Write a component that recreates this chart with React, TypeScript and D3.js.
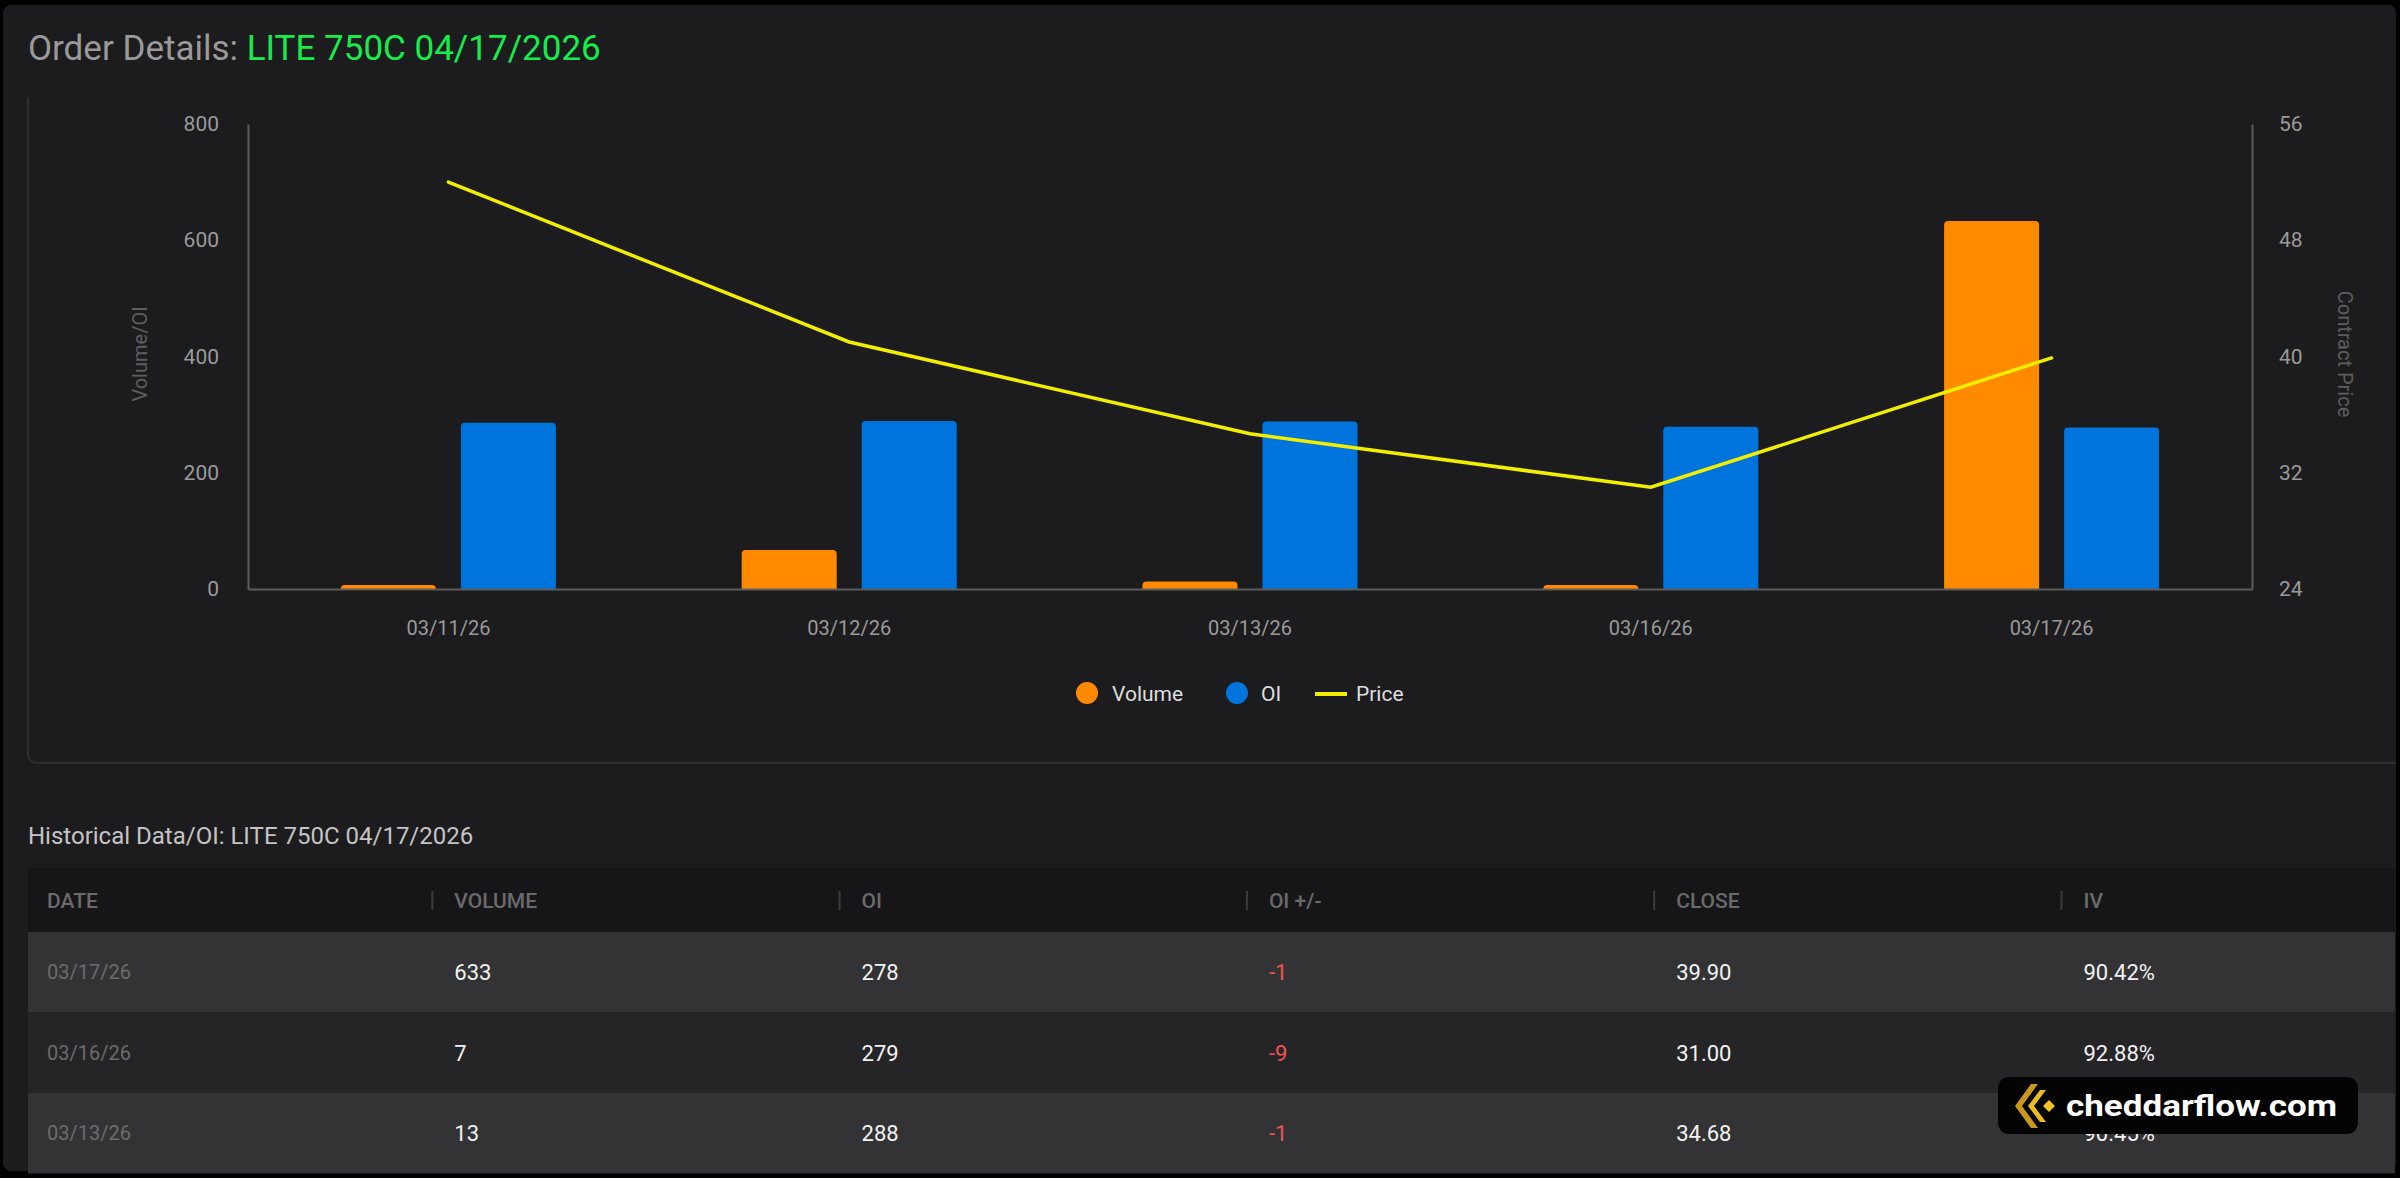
import React, { useRef, useEffect } from 'react';
import * as d3 from 'd3';

// daily history for LITE 750C 04/17/2026
const dates = ['03/11/26', '03/12/26', '03/13/26', '03/16/26', '03/17/26'];
const volume = [7, 67, 13, 7, 633];
const openInterest = [286, 289, 288, 279, 278];
const contractPrice = [52.0, 41.0, 34.68, 31.0, 39.9];
// implied vol for the rows shown in the table (newest first)
const tableIV = [90.42, 92.88, 90.45];

const volumeTicks = [0, 200, 400, 600, 800];
const priceTicks = [24, 32, 40, 48, 56];
const tableColumns = ['DATE', 'VOLUME', 'OI', 'OI +/-', 'CLOSE', 'IV'];

const W = 2400;
const H = 1178;
const FONT = 'Roboto, "Noto Sans", sans-serif';

const ORANGE = '#ff8a00';
const BLUE = '#0074dd';
const YELLOW = '#f2ee00';
const AXIS = '#5c5c5c';

// bar with rounded top corners
const roundedTop = (x: number, y: number, w: number, h: number, r: number) => {
  const rr = Math.min(r, h, w / 2);
  return `M${x},${y + h}V${y + rr}Q${x},${y} ${x + rr},${y}H${x + w - rr}Q${x + w},${y} ${x + w},${y + rr}V${y + h}Z`;
};

const App = () => {
  const svgRef = useRef<SVGSVGElement>(null);

  useEffect(() => {
    document.body.style.margin = '0';
    document.body.style.background = '#000';
    document.body.style.overflow = 'hidden';

    const svg = d3.select(svgRef.current);
    svg.selectAll('*').remove();

    // page panel
    svg.append('rect').attr('width', W).attr('height', H).attr('fill', '#000');
    svg.append('rect')
      .attr('x', 3).attr('y', 5).attr('width', 2393).attr('height', 1166)
      .attr('rx', 8).attr('fill', '#1c1c1e');

    // title
    const title = svg.append('text')
      .attr('x', 28).attr('y', 60)
      .attr('font-family', FONT).attr('font-size', 35);
    title.append('tspan').attr('fill', '#9a9a9a').text('Order Details: ');
    title.append('tspan').attr('fill', '#16ec4c').text('LITE 750C 04/17/2026');

    // chart card outline (left + bottom edges)
    svg.append('path')
      .attr('d', 'M28,97V753Q28,763 38,763H2396')
      .attr('fill', 'none').attr('stroke', '#2e2e30').attr('stroke-width', 2);

    const left = 248;
    const right = 2252;
    const top = 124;
    const bottom = 589;

    const x0 = d3.scaleBand().domain(dates).range([left, right]).padding(0);
    const groupW = 215;
    const x1 = d3.scaleBand().domain(['volume', 'oi']).range([0, groupW]).paddingInner(0.2083);
    const yLeft = d3.scaleLinear().domain([0, 800]).range([bottom, top]);
    const yRight = d3.scaleLinear().domain([24, 56]).range([bottom, top]);

    const groupX = (d: string) => (x0(d) as number) + (x0.bandwidth() - groupW) / 2;

    const series = [
      { key: 'volume', values: volume, color: ORANGE },
      { key: 'oi', values: openInterest, color: BLUE },
    ];

    series.forEach((s) => {
      svg.append('g')
        .selectAll('path')
        .data(s.values)
        .enter()
        .append('path')
        .attr('fill', s.color)
        .attr('d', (v, i) => {
          const x = groupX(dates[i]) + (x1(s.key) as number);
          const y = yLeft(v);
          return roundedTop(x, y, x1.bandwidth(), bottom - y, 4);
        });
    });

    // price line
    const line = d3.line<number>()
      .x((d, i) => (x0(dates[i]) as number) + x0.bandwidth() / 2)
      .y((d) => yRight(d));

    svg.append('path')
      .datum(contractPrice)
      .attr('fill', 'none')
      .attr('stroke', YELLOW)
      .attr('stroke-width', 3.5)
      .attr('stroke-linecap', 'round')
      .attr('d', line);

    const styleAxis = (g: any, size = 21) => {
      g.select('.domain').attr('stroke', AXIS).attr('stroke-width', 2);
      g.selectAll('text')
        .attr('fill', '#9a9a9a')
        .attr('font-size', size)
        .attr('font-family', FONT);
    };

    svg.append('g')
      .attr('transform', `translate(${left},0)`)
      .call(d3.axisLeft(yLeft).tickValues(volumeTicks).tickSize(0).tickPadding(29))
      .call(styleAxis);

    svg.append('g')
      .attr('transform', `translate(${right},0)`)
      .call(d3.axisRight(yRight).tickValues(priceTicks).tickSize(0).tickPadding(27))
      .call(styleAxis);

    svg.append('g')
      .attr('transform', `translate(0,${bottom})`)
      .call(d3.axisBottom(x0).tickSize(0).tickPadding(32))
      .call((g: any) => styleAxis(g, 20));

    // axis titles
    svg.append('text')
      .attr('transform', 'translate(147,354) rotate(-90)')
      .attr('text-anchor', 'middle')
      .attr('font-family', FONT).attr('font-size', 20)
      .attr('fill', '#5e5e5e')
      .text('Volume/OI');

    svg.append('text')
      .attr('transform', 'translate(2338,354) rotate(90)')
      .attr('text-anchor', 'middle')
      .attr('font-family', FONT).attr('font-size', 20)
      .attr('fill', '#5e5e5e')
      .text('Contract Price');

    // legend
    const legend = svg.append('g').attr('font-family', FONT).attr('font-size', 21);
    const ly = 693;
    legend.append('circle').attr('cx', 1087).attr('cy', ly).attr('r', 11).attr('fill', ORANGE);
    legend.append('text').attr('x', 1112).attr('y', ly).attr('dy', '0.36em').attr('fill', '#dedede').text('Volume');
    legend.append('circle').attr('cx', 1237).attr('cy', ly).attr('r', 11).attr('fill', BLUE);
    legend.append('text').attr('x', 1261).attr('y', ly).attr('dy', '0.36em').attr('fill', '#dedede').text('OI');
    legend.append('line')
      .attr('x1', 1315).attr('x2', 1347).attr('y1', ly + 1).attr('y2', ly + 1)
      .attr('stroke', YELLOW).attr('stroke-width', 4);
    legend.append('text').attr('x', 1356).attr('y', ly).attr('dy', '0.36em').attr('fill', '#dedede').text('Price');

    // historical table
    svg.append('text')
      .attr('x', 28).attr('y', 844)
      .attr('font-family', FONT).attr('font-size', 24)
      .attr('fill', '#c4c4c4')
      .text('Historical Data/OI: LITE 750C 04/17/2026');

    const tableLeft = 28;
    const tableRight = 2395;
    const headTop = 868;
    const headH = 64;
    const rowH = 80.5;
    const colX = d3.scaleLinear().domain([0, 1]).range([47, 454.3]);

    svg.append('rect')
      .attr('x', tableLeft).attr('y', headTop)
      .attr('width', tableRight - tableLeft).attr('height', headH)
      .attr('fill', '#161618');

    const head = svg.append('g').attr('font-family', FONT).attr('font-size', 21).attr('font-weight', 500);
    tableColumns.forEach((c, i) => {
      if (i > 0) {
        head.append('line')
          .attr('x1', colX(i) - 22).attr('x2', colX(i) - 22)
          .attr('y1', headTop + 23).attr('y2', headTop + 42)
          .attr('stroke', '#3c3c3e').attr('stroke-width', 2);
      }
      head.append('text')
        .attr('x', colX(i)).attr('y', headTop + headH / 2).attr('dy', '0.36em')
        .attr('fill', '#6a6a6a')
        .text(c);
    });

    // newest three days, newest first
    const rows = d3.range(dates.length - 1, dates.length - 4, -1).map((i, r) => ({
      date: dates[i],
      volume: volume[i],
      oi: openInterest[i],
      change: openInterest[i] - openInterest[i - 1],
      close: contractPrice[i],
      iv: tableIV[r],
    }));

    const body = svg.append('g').attr('font-family', FONT);
    rows.forEach((row, r) => {
      const y = headTop + headH + r * rowH;
      body.append('rect')
        .attr('x', tableLeft).attr('y', y)
        .attr('width', tableRight - tableLeft).attr('height', rowH)
        .attr('fill', r % 2 === 0 ? '#333335' : '#252527');
      const cy = y + rowH / 2;
      const cells = [
        { t: row.date, c: '#6c6c6c', s: 20 },
        { t: String(row.volume), c: '#f2f2f2', s: 22 },
        { t: String(row.oi), c: '#f2f2f2', s: 22 },
        { t: String(row.change), c: row.change < 0 ? '#ef5350' : '#16ec4c', s: 22 },
        { t: d3.format('.2f')(row.close), c: '#f2f2f2', s: 22 },
        { t: `${d3.format('.2f')(row.iv)}%`, c: '#f2f2f2', s: 22 },
      ];
      cells.forEach((cell, i) => {
        body.append('text')
          .attr('x', colX(i)).attr('y', cy).attr('dy', '0.36em')
          .attr('font-size', cell.s)
          .attr('fill', cell.c)
          .text(cell.t);
      });
    });

    // site badge
    const badge = svg.append('g');
    badge.append('rect')
      .attr('x', 1998).attr('y', 1077).attr('width', 360).attr('height', 57)
      .attr('rx', 11).attr('fill', '#030303');
    badge.append('polygon')
      .attr('points', '2031,1084 2038,1084 2022,1106 2038,1128 2031,1128 2015,1106')
      .attr('fill', '#c9971c');
    badge.append('polygon')
      .attr('points', '2040,1090 2046,1090 2034,1106 2046,1122 2040,1122 2028,1106')
      .attr('fill', '#ebbb22');
    badge.append('polygon')
      .attr('points', '2049,1100 2055,1106 2049,1112 2043,1106')
      .attr('fill', '#f4c21f');
    badge.append('text')
      .attr('x', 2066).attr('y', 1116)
      .attr('font-family', FONT).attr('font-size', 29).attr('font-weight', 700)
      .attr('textLength', 271).attr('lengthAdjust', 'spacingAndGlyphs')
      .attr('fill', '#ffffff')
      .text('cheddarflow.com');
  }, []);

  return <svg ref={svgRef} width={W} height={H} style={{ display: 'block' }}></svg>;
};

export default App;
